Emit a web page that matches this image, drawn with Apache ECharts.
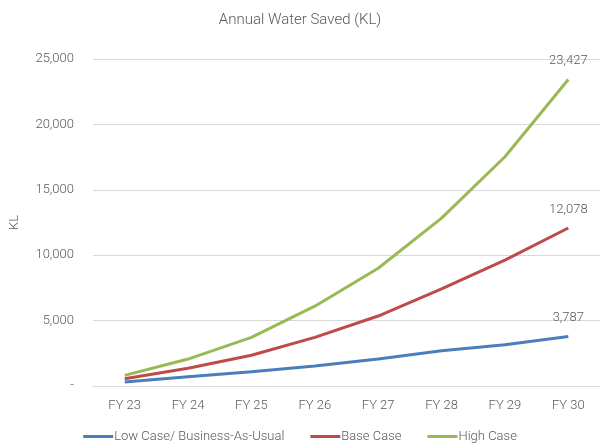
<!DOCTYPE html>
<html>
<head>
    <meta charset="utf-8" />
    <title>Annual Water Saved</title>
    <script src="https://cdn.jsdelivr.net/npm/echarts@6/dist/echarts.min.js"></script>
    <style>
        body { margin: 0; background: #fff; }
        #main { width: 600px; height: 445px; }
    </style>
</head>
<body>
    <div id="main"></div>
    <script type="text/javascript">
        var years = ['FY 23', 'FY 24', 'FY 25', 'FY 26', 'FY 27', 'FY 28', 'FY 29', 'FY 30'];
        var lowCase = [300, 710, 1090, 1530, 2060, 2700, 3150, 3787];
        var baseCase = [560, 1350, 2350, 3720, 5350, 7420, 9630, 12078];
        var highCase = [810, 2060, 3720, 6100, 9000, 12840, 17530, 23427];

        var grey = '#595959';
        var font = 'Roboto';
        var light = 300;

        function lastLabel(p) {
            if (p.dataIndex !== years.length - 1) return '';
            return p.value.toLocaleString('en-US');
        }

        function makeLine(name, data, color) {
            return {
                name: name,
                type: 'line',
                data: data,
                showSymbol: true,
                symbol: 'circle',
                symbolSize: 0,
                lineStyle: { width: 3, color: color },
                itemStyle: { color: color },
                label: {
                    show: true,
                    position: 'top',
                    distance: 12,
                    formatter: lastLabel,
                    color: grey,
                    fontFamily: font,
                    fontWeight: light,
                    fontSize: 13
                },
                labelLayout: { hideOverlap: false }
            };
        }

        var myChart = echarts.init(document.getElementById('main'));
        var option = {
            animation: false,
            title: {
                text: 'Annual Water Saved (KL)',
                left: 'center',
                top: 8,
                textStyle: { color: grey, fontFamily: font, fontSize: 15, fontWeight: light }
            },
            grid: { left: 90, right: 0, top: 59, bottom: 59 },
            legend: {
                bottom: -3,
                left: 'center',
                itemWidth: 30,
                itemHeight: 3,
                itemGap: 26,
                icon: 'rect',
                textStyle: { color: grey, fontFamily: font, fontSize: 13, fontWeight: light, padding: [0, 0, 0, -4] },
                data: ['Low Case/ Business-As-Usual', 'Base Case', 'High Case']
            },
            xAxis: {
                type: 'category',
                data: years,
                axisTick: { show: false },
                axisLine: { lineStyle: { color: '#d9d9d9' } },
                axisLabel: { color: grey, fontFamily: font, fontWeight: light, fontSize: 13, margin: 13 }
            },
            yAxis: {
                type: 'value',
                min: 0,
                max: 25000,
                interval: 5000,
                name: 'KL',
                nameLocation: 'middle',
                nameGap: 72,
                nameTextStyle: { color: grey, fontFamily: font, fontWeight: light, fontSize: 13 },
                axisLabel: {
                    color: grey,
                    fontFamily: font,
                    fontWeight: light,
                    fontSize: 13,
                    margin: 19,
                    formatter: function (v) { return v === 0 ? '-' : v.toLocaleString('en-US'); }
                },
                splitLine: { lineStyle: { color: '#d9d9d9' } }
            },
            series: [
                makeLine('Low Case/ Business-As-Usual', lowCase, '#4a7ebb'),
                makeLine('Base Case', baseCase, '#be4b48'),
                makeLine('High Case', highCase, '#98b954')
            ]
        };
        myChart.setOption(option);
    </script>
</body>
</html>
